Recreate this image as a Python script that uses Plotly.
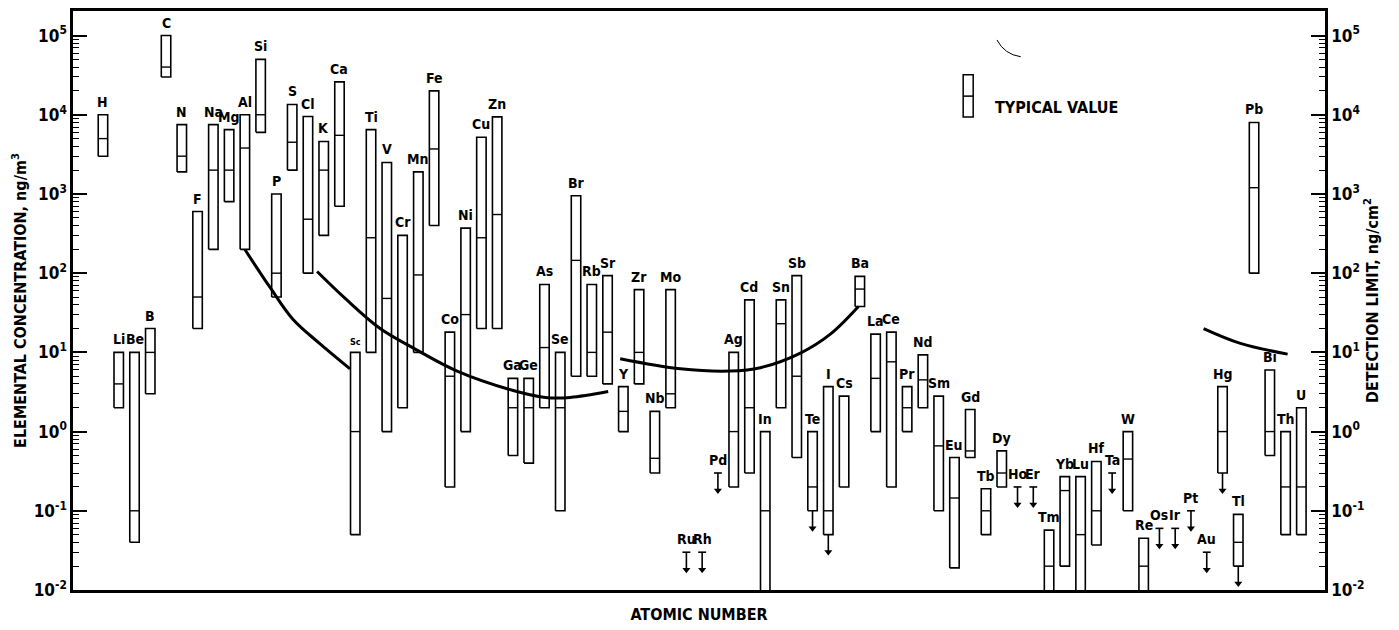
import numpy as np
import plotly.graph_objects as go

# ---------------- data ----------------
symbols = ["H", "Li", "Be", "B", "C", "N", "F", "Na", "Mg", "Al", "Si", "P", "S", "Cl", "K", "Ca",
           "Sc", "Ti", "V", "Cr", "Mn", "Fe", "Co", "Ni", "Cu", "Zn", "Ga", "Ge", "As", "Se", "Br",
           "Rb", "Sr", "Y", "Zr", "Nb", "Mo", "Ru", "Rh", "Pd", "Ag", "Cd", "In", "Sn", "Sb", "Te",
           "I", "Cs", "Ba", "La", "Ce", "Pr", "Nd", "Sm", "Eu", "Gd", "Tb", "Dy", "Ho", "Er", "Tm",
           "Yb", "Lu", "Hf", "Ta", "W", "Re", "Os", "Ir", "Pt", "Au", "Hg", "Tl", "Pb", "Bi", "Th", "U"]

atomic_number = [1, 3, 4, 5, 6, 7, 9, 11, 12, 13, 14, 15, 16, 17, 19, 20,
                 21, 22, 23, 24, 25, 26, 27, 28, 29, 30, 31, 32, 33, 34, 35,
                 37, 38, 39, 40, 41, 42, 44, 45, 46, 47, 48, 49, 50, 51, 52,
                 53, 55, 56, 57, 58, 59, 60, 62, 63, 64, 65, 66, 67, 68, 69,
                 70, 71, 72, 73, 74, 75, 76, 77, 78, 79, 80, 81, 82, 83, 90, 92]

# concentration range, ng/m3 (None = only an upper limit is given)
conc_min = [3e3, 2, 0.04, 3, 3e4, 1.9e3, 20, 200, 800, 200, 6e3, 50, 2e3, 100, 300, 700,
            0.05, 10, 1, 2, 10, 400, 0.2, 1, 20, 20, 0.5, 0.4, 2, 0.1, 5,
            5, 4, 1, 4, 0.3, 2, None, None, None, 0.2, 0.3, 0.005, 2, 0.47, 0.1,
            0.05, 0.2, 38, 1, 0.2, 1, 2, 0.1, 0.019, 0.47, 0.05, 0.2, None, None, 0.005,
            0.02, 0.005, 0.037, None, 0.1, 0.005, None, None, None, None, 0.3, 0.02, 100, 0.5, 0.05, 0.05]
conc_typ = [5e3, 4, 0.1, 10, 4e4, 3e3, 50, 2e3, 2e3, 3.8e3, 1e4, 100, 4.5e3, 480, 2e3, 5.5e3,
            1, 280, 48, None, 95, 3.7e3, 5, 30, 280, 550, 2, 2, 11.5, 2, 145,
            10, 18, 1.8, 10, 0.46, 3, None, None, None, 1, 2, 0.1, 23, 5, 0.2,
            0.1, None, 63, 4.7, 7.6, 2, 4.5, 0.66, 0.145, 0.57, 0.1, 0.3, None, None, 0.02,
            0.18, 0.05, 0.1, None, 0.45, 0.02, None, None, None, None, 1, 0.04, 1.2e3, 1, 0.2, 0.2]
conc_max = [1e4, 10, 10, 20, 1e5, 7.5e3, 600, 7.5e3, 6.5e3, 1e4, 5e4, 1e3, 1.35e4, 9.5e3, 4.6e3, 2.6e4,
            10, 6.5e3, 2.5e3, 300, 1.9e3, 2e4, 18, 370, 5.2e3, 9.4e3, 4.7, 4.7, 72, 10, 950,
            72, 93, 3.7, 62, 1.8, 62, None, None, None, 10, 46, 1, 46, 93, 1,
            3.7, 2.8, 91, 17, 18, 3.7, 9.3, 2.8, 0.47, 1.9, 0.19, 0.57, None, None, 0.057,
            0.27, 0.27, 0.42, None, 1, 0.045, None, None, None, None, 3.7, 0.09, 8e3, 6, 1, 2]

# upper limits only (ng/m3)
limit_symbols = ["Ru", "Rh", "Pd", "Ho", "Er", "Ta", "Os", "Ir", "Pt", "Au"]
limit_values = [0.03, 0.03, 0.3, 0.2, 0.2, 0.3, 0.06, 0.06, 0.1, 0.03]

# ranges whose lower end is itself an upper limit (arrow below the bar)
open_low_symbols = ["Te", "I", "Hg", "Tl"]

# detection-limit curves, ng/cm2 (x given in element positions)
det_curves_x = [[9.0, 10.6, 12.06, 13.77, 15.67],
                [13.58, 15.36, 17.58, 19.8, 22.46, 26.02, 28.05, 29.63, 32.04],
                [32.8, 36.61, 39.78, 41.69, 44.23, 46.13, 47.91],
                [69.8, 72.14, 75.13]]
det_curves_y = [[199, 66, 26, 12.8, 6.2],
                [105, 48, 20, 11, 5.8, 3.3, 2.7, 2.7, 3.2],
                [8.3, 6.2, 5.8, 6.4, 9.8, 17, 38],
                [20, 13, 9.5]]

tick_vals = [1e-2, 1e-1, 1e0, 1e1, 1e2, 1e3, 1e4, 1e5]
tick_text = ["<b>10<sup>-2</sup></b>", "<b>10<sup>-1</sup></b>", "<b>10<sup>0</sup></b>",
             "<b>10<sup>1</sup></b>", "<b>10<sup>2</sup></b>", "<b>10<sup>3</sup></b>",
             "<b>10<sup>4</sup></b>", "<b>10<sup>5</sup></b>"]

# ---------------- styling ----------------
FONT = "Liberation Sans Narrow, Arial Narrow, DejaVu Sans Condensed, Liberation Sans, sans-serif"
HW = 0.3          # half width of a range bar (position units)
TW = 0.25         # half width of the "T" of an upper-limit marker
ARROW = 10 ** -0.22

pos = {s: i for i, s in enumerate(symbols)}

fig = go.Figure()

# range bars
bx, by = [], []
tx, ty = [], []
for i, (lo, t, hi) in enumerate(zip(conc_min, conc_typ, conc_max)):
    if lo is None:
        continue
    bx += [i - HW, i + HW, i + HW, i - HW, i - HW, None]
    by += [lo, lo, hi, hi, lo, None]
    if t is not None:
        tx += [i - HW, i + HW, None]
        ty += [t, t, None]

fig.add_trace(go.Scatter(x=bx, y=by, mode="lines", line=dict(color="black", width=1.6),
                         hoverinfo="skip", showlegend=False))
fig.add_trace(go.Scatter(x=tx, y=ty, mode="lines", line=dict(color="black", width=1.4),
                         hoverinfo="skip", showlegend=False))

# upper limit markers
lx, ly, ax_, ay_ = [], [], [], []
for s, v in zip(limit_symbols, limit_values):
    i = pos[s]
    lx += [i - TW, i + TW, None, i, i, None]
    ly += [v, v, None, v, v * ARROW, None]
    ax_.append(i)
    ay_.append(v * ARROW)
for s in open_low_symbols:
    i = pos[s]
    lo = conc_min[i]
    lx += [i, i, None]
    ly += [lo, lo * ARROW, None]
    ax_.append(i)
    ay_.append(lo * ARROW)
fig.add_trace(go.Scatter(x=lx, y=ly, mode="lines", line=dict(color="black", width=1.6),
                         hoverinfo="skip", showlegend=False))
fig.add_trace(go.Scatter(x=ax_, y=ay_, mode="markers",
                         marker=dict(symbol="triangle-down", size=7, color="black"),
                         hoverinfo="skip", showlegend=False))

# detection limit curves on the right-hand axis
for cx, cy in zip(det_curves_x, det_curves_y):
    fig.add_trace(go.Scatter(x=cx, y=cy, yaxis="y2", mode="lines",
                             line=dict(color="black", width=3, shape="spline"),
                             hoverinfo="skip", showlegend=False))

# element labels
annotations = []
for i, s in enumerate(symbols):
    top = conc_max[i]
    if top is None:
        top = limit_values[limit_symbols.index(s)]
    annotations.append(dict(x=i, y=np.log10(top), xref="x", yref="y", text=f"<b>{s}</b>",
                            showarrow=False, yanchor="bottom", yshift=3,
                            font=dict(family=FONT, size=9 if s == "Sc" else 14, color="black")))

# legend ("TYPICAL VALUE")
annotations.append(dict(x=0.735, y=0.853, xref="paper", yref="paper", xanchor="left",
                        text="<b>TYPICAL VALUE</b>", showarrow=False,
                        font=dict(family=FONT, size=16, color="black")))
shapes = [
    dict(type="rect", xref="paper", yref="paper", x0=0.711, x1=0.719, y0=0.817, y1=0.890,
         line=dict(color="black", width=1.5)),
    dict(type="line", xref="paper", yref="paper", x0=0.711, x1=0.719, y0=0.853, y1=0.853,
         line=dict(color="black", width=1.5)),
    dict(type="path", xref="paper", yref="paper", path="M 0.738 0.950 Q 0.744 0.925 0.757 0.921",
         line=dict(color="black", width=1)),
]

minor_vals = [m * 10.0 ** d for d in range(-2, 6) for m in range(2, 10)]
yax = dict(type="log", range=[-2, 5.31], tickvals=tick_vals, ticktext=tick_text,
           ticks="inside", ticklen=14, tickwidth=2, tickcolor="black",
           minor=dict(tickvals=minor_vals, ticks="inside", ticklen=6, tickwidth=1.2, tickcolor="black"),
           showline=True, linewidth=2.5, linecolor="black", showgrid=False, zeroline=False,
           tickfont=dict(family=FONT, size=17, color="black"))

fig.update_layout(
    width=1391, height=622,
    margin=dict(l=65, r=74, t=0, b=40),
    paper_bgcolor="white", plot_bgcolor="white",
    font=dict(family=FONT, color="black"),
    xaxis=dict(range=[-1.9, 77.5], showticklabels=False, ticks="", showgrid=False, zeroline=False,
               showline=True, mirror=True, linewidth=2.5, linecolor="black",
               title=dict(text="<b>ATOMIC NUMBER</b>", standoff=18,
                          font=dict(family=FONT, size=16, color="black"))),
    yaxis=dict(**yax, side="left",
               title=dict(text="<b>ELEMENTAL CONCENTRATION, ng/m<sup>3</sup></b>", standoff=4,
                          font=dict(family=FONT, size=16, color="black"))),
    yaxis2=dict(**yax, side="right", overlaying="y",
                title=dict(text="<b>DETECTION LIMIT, ng/cm<sup>2</sup></b>", standoff=4,
                           font=dict(family=FONT, size=16, color="black"))),
    annotations=annotations,
    shapes=shapes,
)

fig.write_html("out.html")
